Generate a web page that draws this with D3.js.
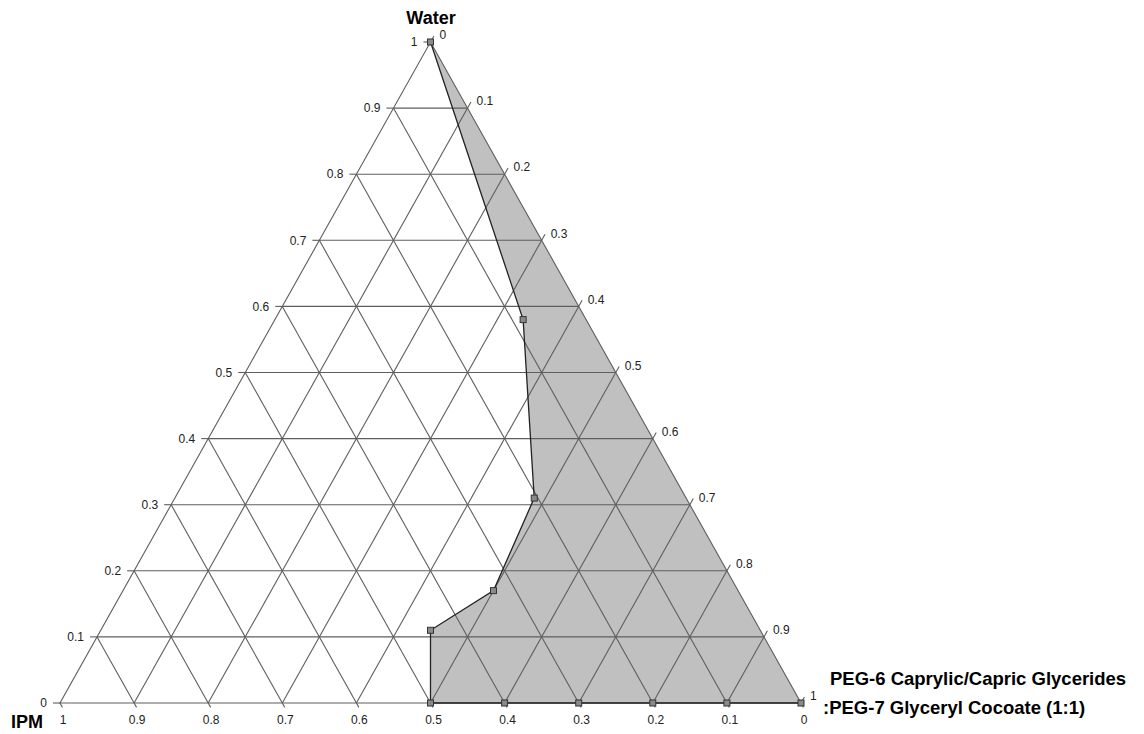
<!DOCTYPE html>
<html>
<head>
<meta charset="utf-8">
<script src="https://cdn.jsdelivr.net/npm/d3@7"></script>
<style>
  body { margin: 0; background: #fff; }
  text { font-family: "Liberation Sans", Arial, sans-serif; }
</style>
</head>
<body>
<svg id="chart" width="1144" height="734"></svg>
<script>
// boundary of the region, as mass fractions (water, surfactant mix, IPM)
var water = [1, 0.58, 0.31, 0.17, 0.11, 0, 0, 0, 0, 0, 0];
var surf  = [0, 0.335, 0.485, 0.50, 0.445, 0.5, 0.6, 0.7, 0.8, 0.9, 1];
var ipm   = [0, 0.085, 0.205, 0.33, 0.445, 0.5, 0.4, 0.3, 0.2, 0.1, 0];

var ticks = [0, 0.1, 0.2, 0.3, 0.4, 0.5, 0.6, 0.7, 0.8, 0.9, 1];
var tickLabels = ["0", "0.1", "0.2", "0.3", "0.4", "0.5", "0.6", "0.7", "0.8", "0.9", "1"];

var svg = d3.select("#chart");

// x follows surf + water/2, y follows water
var xScale = d3.scaleLinear().domain([0, 1]).range([60, 801]);
var yScale = d3.scaleLinear().domain([0, 1]).range([703, 42]);

function px(w, s) { return [xScale(s + w / 2), yScale(w)]; }

var gridColor = "#5e5e5e";
var line = d3.line();

// shaded region: boundary points then back up the right edge
var region = [];
for (var i = 0; i < water.length; i++) region.push(px(water[i], surf[i]));
region.push(px(1, 0));
svg.append("path")
  .attr("d", line(region) + "Z")
  .attr("fill", "#c0c0c0")
  .attr("stroke", "none");

// grid: constant water, constant surfactant, constant IPM
var g = svg.append("g").attr("stroke", gridColor).attr("stroke-width", 1.1).attr("fill", "none");
ticks.slice(1, 10).forEach(function(t) {
  g.append("path").attr("d", line([px(t, 0), px(t, 1 - t)]));
  g.append("path").attr("d", line([px(0, t), px(1 - t, t)]));
  g.append("path").attr("d", line([px(0, 1 - t), px(1 - t, 0)]));
});
// outline
g.append("path").attr("d", line([px(0, 0), px(0, 1), px(1, 0)]) + "Z");

// ticks
var ux = 0.489, uy = 0.872;
ticks.forEach(function(t, i) {
  var l = px(t, 0);   // left edge, water = t
  g.append("path").attr("d", line([[l[0] - 7, l[1]], l]));
  svg.append("text").attr("x", l[0] - 13).attr("y", l[1]).attr("dy", "0.35em")
    .attr("text-anchor", "end").attr("font-size", 12).attr("fill", "#222").text(tickLabels[i]);

  var r = px(1 - t, t); // right edge, surf = t
  g.append("path").attr("d", line([r, [r[0] + ux * 7, r[1] - uy * 7]]));
  svg.append("text").attr("x", r[0] + 9).attr("y", r[1] - 7).attr("dy", "0.35em")
    .attr("font-size", 12).attr("fill", "#222").text(tickLabels[i]);

  var b = px(0, 1 - t); // bottom, IPM = t
  g.append("path").attr("d", line([b, [b[0] + ux * 5, b[1] + uy * 5]]));
  svg.append("text").attr("x", b[0] + 3).attr("y", b[1] + 17).attr("dy", "0.35em")
    .attr("text-anchor", "middle").attr("font-size", 12).attr("fill", "#222").text(tickLabels[i]);
});

// boundary line with markers
var pts = water.map(function(w, i) { return px(w, surf[i]); });
svg.append("path")
  .attr("d", line(pts))
  .attr("fill", "none")
  .attr("stroke", "#222")
  .attr("stroke-width", 1.3);

svg.selectAll("rect.mk")
  .data(pts)
  .enter()
  .append("rect")
  .attr("class", "mk")
  .attr("x", function(d) { return d[0] - 3; })
  .attr("y", function(d) { return d[1] - 3; })
  .attr("width", 6)
  .attr("height", 6)
  .attr("fill", "#8a8a8a")
  .attr("stroke", "#333")
  .attr("stroke-width", 1);

// vertex labels
svg.append("text").attr("x", 431).attr("y", 24).attr("text-anchor", "middle")
  .attr("font-size", 18).attr("font-weight", "bold").text("Water");
svg.append("text").attr("x", 11).attr("y", 728)
  .attr("font-size", 18).attr("font-weight", "bold").text("IPM");
svg.append("text").attr("x", 830).attr("y", 685)
  .attr("font-size", 18.5).attr("font-weight", "bold").text("PEG-6 Caprylic/Capric Glycerides");
svg.append("text").attr("x", 823).attr("y", 714)
  .attr("font-size", 18.5).attr("font-weight", "bold").text(":PEG-7 Glyceryl Cocoate (1:1)");
</script>
</body>
</html>
